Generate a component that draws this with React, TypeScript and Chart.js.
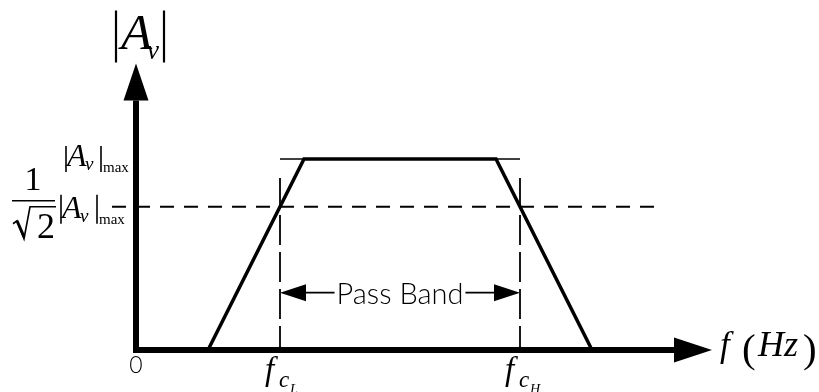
import React, { useEffect, useRef } from "react";
import { Chart, registerables } from "chart.js";

Chart.register(...registerables);

const CANVAS_W = 819;
const CANVAS_H = 392;

// Normalized frequency (x) and normalized gain |Av| / |Av|max (y)
const responseFreq = [3, 7, 15, 19];
const responseGain = [0, 1, 1, 0];
const cutoffFreqs = [6, 16]; // f_cL, f_cH
const cutoffSubs = ["L", "H"];
const maxGain = 1;
const halfPowerGain = 0.75;
const maxLineFreqs = [6, 16];
const halfPowerLineFreqs = [-1, 21.6];
const cutoffMarkerTop = 0.9;
const passBandGain = 0.3;
const freqAxisTip = 24;
const gainAxisTip = 1.5;
const originLabel = "0";
const passBandLabel = "Pass Band";

const xRange = [-136 / 24, 683 / 24];
const yRange = [-42 / 191, 350 / 191];

const SERIF = '"Liberation Serif", "DejaVu Serif", serif';
const SANS = 'Lato, "Open Sans", sans-serif';

function arrowHead(ctx: CanvasRenderingContext2D, tx: number, ty: number, dx: number, dy: number, len: number, w: number) {
  const bx = tx - dx * len;
  const by = ty - dy * len;
  const nx = -dy, ny = dx;
  ctx.beginPath();
  ctx.moveTo(tx, ty);
  ctx.lineTo(bx + nx * w / 2, by + ny * w / 2);
  ctx.lineTo(bx - nx * w / 2, by - ny * w / 2);
  ctx.closePath();
  ctx.fill();
}

function txt(ctx: CanvasRenderingContext2D, s: string, x: number, y: number, font: string, align: CanvasTextAlign = "left") {
  ctx.font = font;
  ctx.textAlign = align;
  ctx.textBaseline = "alphabetic";
  ctx.fillText(s, x, y);
}

function vbar(ctx: CanvasRenderingContext2D, x: number, y1: number, y2: number, w = 2) {
  ctx.lineWidth = w;
  ctx.beginPath();
  ctx.moveTo(x, y1);
  ctx.lineTo(x, y2);
  ctx.stroke();
}

const annotations = {
  id: "annotations",
  afterDatasetsDraw(chart: any) {
    const { ctx, scales } = chart;
    const px = (v: number) => scales.x.getPixelForValue(v);
    const py = (v: number) => scales.y.getPixelForValue(v);
    const ox = px(0);
    const oy = py(0);
    const xTip = px(freqAxisTip);
    const yTip = py(gainAxisTip);
    ctx.save();
    ctx.fillStyle = "#000";
    ctx.strokeStyle = "#000";

    // axes
    const headLen = 38, headW = 25;
    ctx.lineWidth = 6;
    ctx.lineCap = "butt";
    ctx.beginPath();
    ctx.moveTo(ox - 3, oy);
    ctx.lineTo(xTip - headLen + 1, oy);
    ctx.moveTo(ox, oy + 3);
    ctx.lineTo(ox, yTip + headLen - 1);
    ctx.stroke();
    arrowHead(ctx, xTip, oy, 1, 0, headLen, headW);
    arrowHead(ctx, ox, yTip, 0, -1, headLen - 1, headW);

    // pass band arrow
    const pbY = py(passBandGain);
    const xl = px(cutoffFreqs[0]);
    const xr = px(cutoffFreqs[1]);
    const xm = (xl + xr) / 2;
    const pbFont = `300 29px ${SANS}`;
    ctx.font = pbFont;
    const tw = ctx.measureText(passBandLabel).width;
    ctx.lineWidth = 1.8;
    ctx.beginPath();
    ctx.moveTo(xl + 5, pbY);
    ctx.lineTo(xm - tw / 2 - 2, pbY);
    ctx.moveTo(xm + tw / 2 + 2, pbY);
    ctx.lineTo(xr - 5, pbY);
    ctx.stroke();
    arrowHead(ctx, xl, pbY, -1, 0, 26, 17);
    arrowHead(ctx, xr, pbY, 1, 0, 26, 17);
    txt(ctx, passBandLabel, xm, pbY + 11, pbFont, "center");

    // origin label
    txt(ctx, originLabel, ox, oy + 23, `300 23px ${SANS}`, "center");

    // title |Av|
    vbar(ctx, ox - 20, yTip - 53, yTip - 1, 2.2);
    vbar(ctx, ox + 28, yTip - 53, yTip - 1, 2.2);
    txt(ctx, "A", ox - 15, yTip - 15, `italic 51px ${SERIF}`);
    txt(ctx, "v", ox + 11, yTip - 5, `italic 27px ${SERIF}`);

    // |Av|max label
    const ym = py(maxGain);
    vbar(ctx, ox - 70, ym - 13, ym + 13, 1.6);
    vbar(ctx, ox - 35, ym - 13, ym + 13, 1.6);
    txt(ctx, "A", ox - 69, ym + 7, `italic 32px ${SERIF}`);
    txt(ctx, "v", ox - 51, ym + 11, `italic 19px ${SERIF}`);
    txt(ctx, "max", ox - 33, ym + 13, `15px ${SERIF}`);

    // 1/sqrt(2) |Av|max label
    const yh = py(halfPowerGain);
    vbar(ctx, ox - 75, yh - 12, yh + 17, 1.6);
    vbar(ctx, ox - 39, yh - 12, yh + 17, 1.6);
    txt(ctx, "A", ox - 74, yh + 11, `italic 32px ${SERIF}`);
    txt(ctx, "v", ox - 56, yh + 15, `italic 19px ${SERIF}`);
    txt(ctx, "max", ox - 37, yh + 17, `15px ${SERIF}`);
    txt(ctx, "1", ox - 103, yh - 17, `34px ${SERIF}`, "center");
    ctx.lineWidth = 1.6;
    ctx.beginPath();
    ctx.moveTo(ox - 124, yh - 6);
    ctx.lineTo(ox - 81, yh - 6);
    ctx.stroke();
    // radical
    ctx.lineWidth = 1.6;
    ctx.beginPath();
    ctx.moveTo(ox - 123, yh + 17);
    ctx.lineTo(ox - 119, yh + 14);
    ctx.lineTo(ox - 112, yh + 32);
    ctx.lineTo(ox - 106, yh + 0);
    ctx.lineTo(ox - 80, yh + 0);
    ctx.stroke();
    ctx.beginPath();
    ctx.moveTo(ox - 119, yh + 14);
    ctx.lineTo(ox - 112, yh + 30);
    ctx.lineWidth = 3;
    ctx.stroke();
    txt(ctx, "2", ox - 99, yh + 31, `36px ${SERIF}`);

    // cutoff labels
    cutoffFreqs.forEach((c, i) => {
      const cx = px(c);
      txt(ctx, "f", cx - 15, oy + 30, `italic 33px ${SERIF}`);
      txt(ctx, "c", cx - 1, oy + 37, `italic 23px ${SERIF}`);
      txt(ctx, cutoffSubs[i], cx + 10, oy + 44, `italic 14px ${SERIF}`);
    });

    // f (Hz)
    txt(ctx, "f", xTip + 8, oy + 6, `italic 35px ${SERIF}`);
    txt(ctx, "(", xTip + 30, oy + 12, `41px ${SERIF}`);
    txt(ctx, "Hz", xTip + 46, oy + 6, `italic 36px ${SERIF}`);
    txt(ctx, ")", xTip + 91, oy + 12, `41px ${SERIF}`);

    ctx.restore();
  },
};

const line = (pts: { x: number; y: number }[], width: number, dash: number[] = []) => ({
  data: pts,
  showLine: true,
  borderColor: "#000",
  backgroundColor: "#000",
  borderWidth: width,
  borderDash: dash,
  pointRadius: 0,
  fill: false,
  tension: 0,
  borderJoinStyle: "miter" as const,
});

export default function App() {
  const ref = useRef<HTMLCanvasElement | null>(null);
  useEffect(() => {
    document.body.style.margin = "0";
    const canvas = ref.current;
    if (!canvas) return;
    const datasets: any[] = [
      line(maxLineFreqs.map((f) => ({ x: f, y: maxGain })), 1.3),
      line(halfPowerLineFreqs.map((f) => ({ x: f, y: halfPowerGain })), 1.8, [14, 10]),
      ...cutoffFreqs.map((c) => line([{ x: c, y: cutoffMarkerTop }, { x: c, y: 0 }], 1.8, [30, 7])),
      line(responseFreq.map((f, i) => ({ x: f, y: responseGain[i] })), 3.5),
    ];
    const chart = new Chart(canvas, {
      type: "scatter",
      data: { datasets },
      options: {
        animation: false,
        responsive: false,
        maintainAspectRatio: false,
        layout: { padding: 0 },
        events: [],
        scales: {
          x: { type: "linear", min: xRange[0], max: xRange[1], display: false },
          y: { type: "linear", min: yRange[0], max: yRange[1], display: false },
        },
        plugins: { legend: { display: false }, tooltip: { enabled: false } },
      },
      plugins: [annotations],
    });
    (document as any).fonts?.ready?.then(() => chart.draw());
    return () => chart.destroy();
  }, []);
  return (
    <div style={{ width: CANVAS_W, height: CANVAS_H, background: "#fff" }}>
      <canvas ref={ref} width={CANVAS_W} height={CANVAS_H} style={{ display: "block", width: CANVAS_W, height: CANVAS_H }} />
    </div>
  );
}
